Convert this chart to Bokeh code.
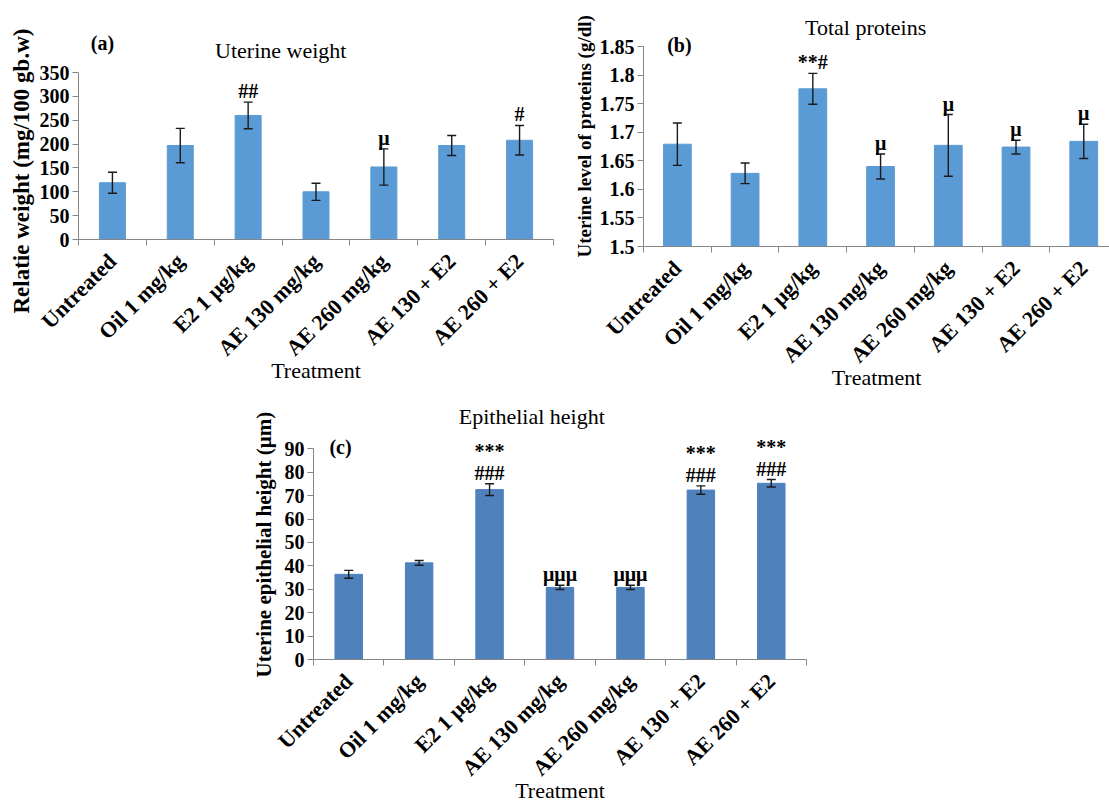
import math
from bokeh.plotting import figure
from bokeh.models import (Range1d, FixedTicker, ColumnDataSource, Whisker, TeeHead,
                          LabelSet, Label, Title)
from bokeh.layouts import column, row
from bokeh.embed import file_html
from bokeh.resources import INLINE

# ---------------- data ----------------
categories = ["Untreated", "Oil 1 mg/kg", "E2 1 \u00b5g/kg", "AE 130 mg/kg",
              "AE 260 mg/kg", "AE 130 + E2", "AE 260 + E2"]

weight_mean = [119, 197, 260, 100, 152, 197, 208]
weight_err = [22, 36, 28, 18, 38, 21, 31]
weight_sig = ["", "", "##", "", "\u03bc", "", "#"]
weight_ticks = [0, 50, 100, 150, 200, 250, 300, 350]

protein_mean = [1.679, 1.628, 1.776, 1.640, 1.677, 1.674, 1.684]
protein_err = [0.037, 0.018, 0.027, 0.022, 0.054, 0.012, 0.030]
protein_sig = ["", "", "**#", "\u03bc", "\u03bc", "\u03bc", "\u03bc"]
protein_ticks = [1.5, 1.55, 1.6, 1.65, 1.7, 1.75, 1.8, 1.85]

epi_mean = [36.4, 41.3, 72.6, 30.8, 30.8, 72.4, 75.3]
epi_err = [1.7, 1.0, 2.5, 0.9, 0.9, 1.8, 1.6]
epi_sig1 = ["", "", "###", "\u03bc\u03bc\u03bc", "\u03bc\u03bc\u03bc", "###", "###"]
epi_sig2 = ["", "", "***", "", "", "***", "***"]
epi_ticks = [0, 10, 20, 30, 40, 50, 60, 70, 80, 90]

FONT = "Liberation Serif"
AXIS_COL = "#868686"


def make_panel(width, height, x_end, y0, y1, y_top, borders, means, errs, ticks,
               color, bar_w, ylabel, ylab_size, ylab_offset, ylab_standoff):
    left, right, top, bottom = borders
    p = figure(width=width, height=height, output_backend="svg", toolbar_location=None,
               x_range=Range1d(0.5, x_end), y_range=Range1d(y0, y_top),
               min_border_left=left, min_border_right=right,
               min_border_top=top, min_border_bottom=bottom, frame_align=False)
    p.outline_line_color = None
    p.xgrid.grid_line_color = None
    p.ygrid.grid_line_color = None
    p.background_fill_color = "white"
    p.border_fill_color = "white"

    n = len(categories)
    xs = list(range(1, n + 1))
    upper = [m + e for m, e in zip(means, errs)]
    lower = [m - e for m, e in zip(means, errs)]
    src = ColumnDataSource(dict(x=xs, top=means, upper=upper, lower=lower))
    p.vbar(x="x", top="top", bottom=y0, width=bar_w, source=src,
           fill_color=color, line_color=color)

    w = Whisker(base="x", upper="upper", lower="lower", source=src,
                line_color="#1a1a1a", line_width=1.4, level="annotation",
                upper_head=TeeHead(size=9, line_color="#1a1a1a", line_width=1.4),
                lower_head=TeeHead(size=9, line_color="#1a1a1a", line_width=1.4))
    p.add_layout(w)

    # y axis
    ya = p.yaxis[0]
    ya.bounds = (y0, y1)
    ya.ticker = FixedTicker(ticks=ticks, minor_ticks=[])
    ya.major_label_overrides = {t: f"{t:g}" for t in ticks}
    ya.axis_line_color = AXIS_COL
    ya.major_tick_line_color = AXIS_COL
    ya.major_tick_out = 6
    ya.major_tick_in = 0
    ya.minor_tick_line_color = None
    ya.major_label_text_font = FONT
    ya.major_label_text_font_style = "bold"
    ya.major_label_text_font_size = "20px"
    ya.major_label_text_color = "black"
    ya.major_label_standoff = 3

    # y axis title, beside the axis, starting at a set distance below the frame bottom
    p.add_layout(Title(text=ylabel, align="left", offset=ylab_offset,
                       standoff=ylab_standoff, text_font=FONT, text_font_style="bold",
                       text_font_size=ylab_size, text_color="black"), "left")

    # x axis
    xa = p.xaxis[0]
    xa.ticker = FixedTicker(ticks=xs, minor_ticks=[i + 0.5 for i in range(0, n + 1)])
    xa.major_label_overrides = {i + 1: c for i, c in enumerate(categories)}
    xa.major_label_orientation = math.pi / 4
    xa.axis_line_color = AXIS_COL
    xa.major_tick_line_color = None
    xa.major_tick_out = 6
    xa.minor_tick_line_color = AXIS_COL
    xa.minor_tick_out = 6
    xa.minor_tick_in = 0
    xa.major_label_text_font = FONT
    xa.major_label_text_font_style = "bold"
    xa.major_label_text_font_size = "22px"
    xa.major_label_text_color = "black"
    xa.major_label_standoff = 12
    xa.axis_label = "Treatment"
    xa.axis_label_text_font = FONT
    xa.axis_label_text_font_style = "normal"
    xa.axis_label_text_font_size = "22px"
    xa.axis_label_text_color = "black"
    xa.axis_label_standoff = -14
    return p, xs, upper


def add_sig(p, xs, ys, texts, offset):
    s = ColumnDataSource(dict(x=xs, y=ys, t=texts))
    p.add_layout(LabelSet(x="x", y="y", text="t", source=s, y_offset=offset,
                          text_align="center", text_baseline="bottom",
                          text_font=FONT, text_font_style="bold",
                          text_font_size="20px", text_color="black"))


def add_text(p, x, y, text, size, style):
    p.add_layout(Label(x=x, y=y, text=text, text_align="center", text_baseline="middle",
                       text_font=FONT, text_font_style=style, text_font_size=size,
                       text_color="black"))


# (a) Uterine weight
pa, xa_, up_a = make_panel(560, 398, 7.5, 0, 350, 459, (78, 7, 20, 159),
                           weight_mean, weight_err, weight_ticks, "#5B9BD5", 0.383,
                           "Relatie weight (mg/100 gb.w)", "23px", -74, 5)
add_sig(pa, xa_, up_a, weight_sig, 0)
add_text(pa, 3.48, 396, "Uterine weight", "22px", "normal")
add_text(pa, 0.854, 411, "(a)", "20px", "bold")

# (b) Total proteins
pb, xb_, up_b = make_panel(549, 398, 7.38, 1.5, 1.85, 1.9165, (83, 0, 8, 152),
                           protein_mean, protein_err, protein_ticks, "#5B9BD5", 0.41,
                           "Uterine level of proteins (g/dl)", "19px", -11, 3)
add_sig(pb, xb_, up_b, protein_sig, 0)
add_text(pb, 3.78, 1.8833, "Total proteins", "22px", "normal")
add_text(pb, 1.03, 1.8535, "(b)", "20px", "bold")

# (c) Epithelial height
pc, xc_, up_c = make_panel(1109, 408, 7.5, 0, 90, 109.4, (313, 303, 5, 144),
                           epi_mean, epi_err, epi_ticks, "#4F81BD", 0.39,
                           "Uterine epithelial height (\u00b5m)", "21px", -18, 11)
add_sig(pc, xc_, up_c, epi_sig1, 0)
add_sig(pc, xc_, up_c, epi_sig2, 22)
add_text(pc, 3.6, 104, "Epithelial height", "22px", "normal")
add_text(pc, 0.883, 90.8, "(c)", "20px", "bold")

layout = column(row(pa, pb), pc)
open("out.html", "w").write(file_html(layout, INLINE))
